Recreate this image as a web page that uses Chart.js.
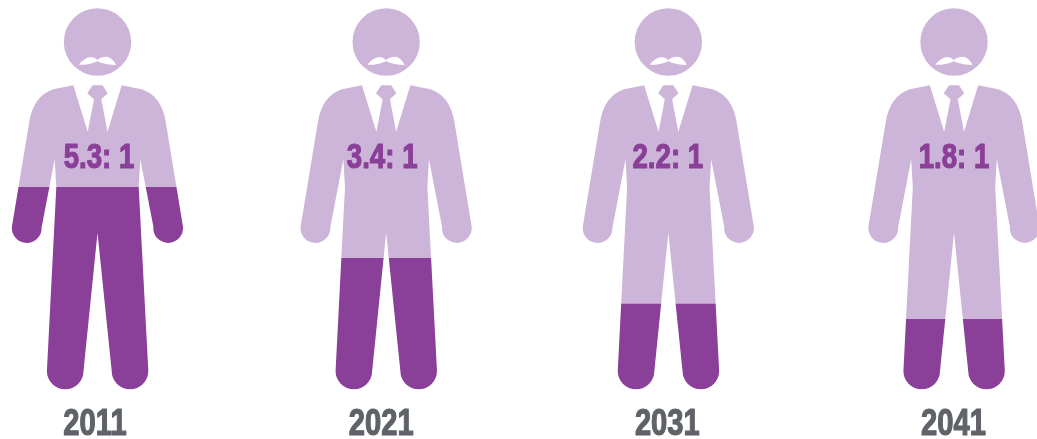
<!DOCTYPE html>
<html>
<head>
<meta charset="utf-8">
<script src="https://cdn.jsdelivr.net/npm/chart.js@4"></script>
<style>
  html, body { margin: 0; background: #fff; }
  #wrap { width: 1037px; height: 439px; }
</style>
</head>
<body>
<div id="wrap"><canvas id="peopleChart" width="1037" height="439"></canvas></div>
<script>
const years = ["2011", "2021", "2031", "2041"];
const ratioLabels = ["5.3: 1", "3.4: 1", "2.2: 1", "1.8: 1"];
// height of the dark fill (whole figure = 10)
const darkLevel = [5.3, 3.44, 2.24, 1.84];
const lightLevel = [4.7, 6.56, 7.76, 8.16];

const DARK = "#8a3f98";
const LIGHT = "#cdb5d9";
const YEAR_GREY = "#5f6368";

// the figures are not quite evenly spaced in the original
const figureNudge = [2.5, 5, 1, 0.5];
const ratioNudge = [4, 1, 0.5, 0.5];

// one person, x from the centre line, y from the top of the page
function personPath() {
  const p = new Path2D();
  // head
  p.arc(0, 42, 33.7, 0, Math.PI * 2);
  p.closePath();
  // moustache, cut out of the head
  p.moveTo(-18.7, 64.8);
  p.quadraticCurveTo(-13, 57.5, -7, 57);
  p.quadraticCurveTo(-3, 57, 0, 60);
  p.quadraticCurveTo(4, 56.5, 10, 56.8);
  p.quadraticCurveTo(15, 58, 18.5, 65);
  p.quadraticCurveTo(8, 65, 0, 61.2);
  p.quadraticCurveTo(-8, 65, -18.7, 64.8);
  p.closePath();
  // body, clockwise from the left side of the collar
  p.moveTo(-24.2, 85.3);
  p.lineTo(-9.8, 131.7);
  p.lineTo(-3.5, 99.3);
  p.lineTo(-10.2, 93.3);
  p.lineTo(-5, 85.3);
  p.lineTo(5, 85.3);
  p.lineTo(10.2, 93.3);
  p.lineTo(3.8, 99.3);
  p.lineTo(10, 131.7);
  p.lineTo(24.2, 85.3);
  p.lineTo(44.2, 89.3);
  p.quadraticCurveTo(64, 96, 68.2, 121.7);
  p.lineTo(85.4, 226);
  p.arc(70.7, 228, 14.9, -0.13, Math.PI + 0.1);
  p.lineTo(42.8, 159.3);
  p.lineTo(41.2, 187.3);
  p.lineTo(50.8, 370.5);
  p.arc(32.5, 371, 18.3, 0, Math.PI);
  p.lineTo(0, 232.7);
  p.lineTo(-14, 371);
  p.arc(-32.3, 371, 18.3, 0, Math.PI);
  p.lineTo(-41.2, 187.3);
  p.lineTo(-42.8, 159.3);
  p.lineTo(-56, 228);
  p.arc(-70.7, 228, 14.9, 0.1, Math.PI + 0.13);
  p.lineTo(-68.2, 121.7);
  p.quadraticCurveTo(-64, 96, -44.2, 89.3);
  p.closePath();
  return p;
}

// the bars only show through the silhouettes
const figureClip = {
  id: "figureClip",
  beforeDatasetsDraw(chart) {
    const person = personPath();
    const all = new Path2D();
    chart.getDatasetMeta(0).data.forEach((bar, i) => {
      all.addPath(person, new DOMMatrix().translate(bar.x + figureNudge[i], 0));
    });
    chart.ctx.save();
    chart.ctx.clip(all, "evenodd");
  },
  afterDatasetsDraw(chart) {
    chart.ctx.restore();
  }
};

// no condensed face is installed, so squeeze the bold one sideways
function narrowText(ctx, txt, x, y, size, squeeze, color) {
  ctx.save();
  ctx.translate(x, y);
  ctx.scale(squeeze, 1);
  ctx.font = "bold " + size + "px 'Liberation Sans'";
  ctx.fillStyle = color;
  ctx.strokeStyle = color;
  ctx.lineWidth = 1.2;
  ctx.lineJoin = "round";
  ctx.textAlign = "center";
  ctx.textBaseline = "alphabetic";
  ctx.fillText(txt, 0, 0);
  ctx.strokeText(txt, 0, 0);
  ctx.restore();
}

const figureText = {
  id: "figureText",
  afterDraw(chart) {
    const xs = chart.scales.x;
    const ys = chart.scales.y;
    ratioLabels.forEach((txt, i) => {
      narrowText(chart.ctx, txt, xs.getPixelForValue(i) + ratioNudge[i], ys.getPixelForValue(5.8), 35, 0.79, DARK);
    });
    xs.ticks.forEach((tick, i) => {
      narrowText(chart.ctx, tick.label, xs.getPixelForTick(i), xs.bottom - 4, 36, 0.81, YEAR_GREY);
    });
  }
};

new Chart(document.getElementById("peopleChart"), {
  type: "bar",
  plugins: [figureClip, figureText],
  data: {
    labels: years,
    datasets: [
      { label: "dark", data: darkLevel, backgroundColor: DARK, borderWidth: 0, clip: false },
      { label: "light", data: lightLevel, backgroundColor: LIGHT, borderWidth: 0, clip: false }
    ]
  },
  options: {
    responsive: false,
    animation: false,
    barPercentage: 1,
    categoryPercentage: 1,
    layout: { padding: { left: 95, right: 83.5, top: 8, bottom: 0 } },
    plugins: {
      legend: { display: false },
      tooltip: { enabled: false },
      title: { display: false }
    },
    scales: {
      x: {
        stacked: true,
        offset: false,
        grid: { display: false },
        border: { display: false },
        afterFit: (scale) => { scale.height = 49.5; },
        ticks: { display: false, autoSkip: false }
      },
      y: {
        stacked: true,
        display: false,
        min: 0,
        max: 10
      }
    }
  }
});
</script>
</body>
</html>
